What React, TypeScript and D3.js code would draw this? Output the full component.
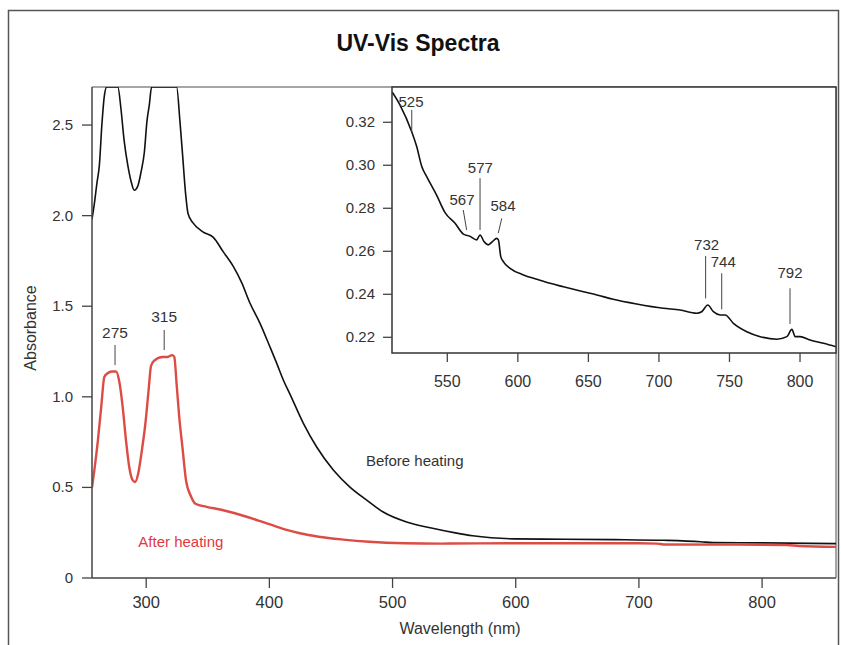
import React from "react";
import * as d3 from "d3";

// ---- data ----
const beforeWl = [256, 258, 260, 262, 264, 266, 268, 277, 279.5, 282, 285, 287.7, 290.3, 293, 295.8, 298.5, 300.6, 302.5, 304.4, 324.7, 327.4, 329.6, 332, 334, 338, 346, 354.5, 362.6, 370.7, 377.5, 384.2, 392.3, 400.5, 405.9, 411.3, 416.7, 427.5, 438.4, 451.9, 465.4, 479, 492.4, 511.4, 531.5, 551, 565, 580, 599, 640, 680, 720, 750, 760, 800, 860];
const beforeAbs = [1.98, 2.07, 2.18, 2.28, 2.5, 2.66, 2.71, 2.71, 2.59, 2.42, 2.28, 2.19, 2.14, 2.16, 2.24, 2.35, 2.52, 2.61, 2.71, 2.71, 2.52, 2.33, 2.12, 2.01, 1.96, 1.91, 1.88, 1.8, 1.72, 1.63, 1.518, 1.407, 1.275, 1.186, 1.093, 1.015, 0.855, 0.723, 0.596, 0.502, 0.43, 0.364, 0.309, 0.276, 0.249, 0.233, 0.222, 0.216, 0.214, 0.212, 0.208, 0.2, 0.195, 0.194, 0.19];

const afterWl = [256, 258, 260.8, 263.5, 266, 268.7, 272, 275.5, 278, 280.9, 283.6, 286.3, 289, 291, 293.6, 296.6, 299.3, 302, 303.9, 306.6, 313.3, 317.4, 321, 322.8, 324.7, 326.8, 329.6, 332.3, 336.4, 340, 349, 360, 370.5, 381.5, 392, 403, 414, 424.8, 440, 460, 481, 510, 540, 600, 650, 700, 715, 720, 780, 820, 830, 860];
const afterAbs = [0.5, 0.6, 0.76, 0.945, 1.11, 1.13, 1.14, 1.14, 1.09, 0.945, 0.76, 0.61, 0.54, 0.53, 0.58, 0.71, 0.85, 1.04, 1.17, 1.2, 1.22, 1.22, 1.23, 1.22, 1.07, 0.89, 0.71, 0.54, 0.45, 0.41, 0.393, 0.378, 0.36, 0.338, 0.315, 0.29, 0.266, 0.247, 0.228, 0.212, 0.2, 0.192, 0.19, 0.192, 0.192, 0.192, 0.19, 0.185, 0.184, 0.182, 0.177, 0.172];

const insetWl = [511, 516.5, 524.7, 528.3, 531.9, 535.4, 542.5, 548.4, 555.5, 561.4, 566, 570.8, 573.2, 576, 579, 582, 585, 586.2, 587.9, 589.7, 594.5, 604, 613.4, 622.8, 632.3, 646.5, 656, 667.6, 684.2, 703, 715, 726.7, 730.3, 734.6, 738.6, 743.4, 746.9, 752.8, 762.3, 771.8, 783.6, 790.7, 794.2, 796.6, 800, 807.1, 816.6, 825.5];
const insetAbs = [0.334, 0.328, 0.3157, 0.3087, 0.2994, 0.2947, 0.286, 0.278, 0.273, 0.268, 0.267, 0.2653, 0.2676, 0.2645, 0.263, 0.2645, 0.266, 0.2653, 0.2575, 0.2552, 0.2521, 0.249, 0.247, 0.2451, 0.2435, 0.2412, 0.2397, 0.2377, 0.2355, 0.2335, 0.2327, 0.2312, 0.2319, 0.235, 0.2319, 0.2304, 0.2304, 0.2265, 0.2226, 0.2203, 0.2191, 0.2203, 0.2237, 0.2203, 0.2203, 0.2187, 0.2172, 0.2156];

const mainXTicks = [300, 400, 500, 600, 700, 800];
const mainYTicks = [0, 0.5, 1.0, 1.5, 2.0, 2.5];
const insetXTicks = [550, 600, 650, 700, 750, 800];
const insetYTicks = [0.22, 0.24, 0.26, 0.28, 0.3, 0.32];

// main peak labels: wavelength, line top / bottom absorbance, text baseline absorbance
const mainPeaks = [
  { label: "275", wl: 274.7, a1: 1.286, a2: 1.175, ta: 1.325 },
  { label: "315", wl: 314.6, a1: 1.369, a2: 1.258, ta: 1.413 },
];

// inset peak labels (line from (w1,a1) to (w2,a2), text at (tw,ta))
const insetPeaks = [
  { label: "525", w1: 524.8, a1: 0.3257, w2: 524.8, a2: 0.3156, tw: 524.3, ta: 0.3273 },
  { label: "567", w1: 561.3, a1: 0.2792, w2: 563.7, a2: 0.2699, tw: 560.4, ta: 0.2815 },
  { label: "577", w1: 573.2, a1: 0.294, w2: 573.2, a2: 0.2699, tw: 573.4, ta: 0.2964 },
  { label: "584", w1: 588.6, a1: 0.2753, w2: 586.1, a2: 0.2684, tw: 589.5, ta: 0.2787 },
  { label: "732", w1: 733.1, a1: 0.2578, w2: 733.1, a2: 0.2381, tw: 733.8, ta: 0.2606 },
  { label: "744", w1: 744.5, a1: 0.2498, w2: 744.5, a2: 0.233, tw: 745.6, ta: 0.2528 },
  { label: "792", w1: 792.9, a1: 0.2428, w2: 792.9, a2: 0.2262, tw: 792.9, ta: 0.2476 },
];

const FONT = "'Liberation Sans', Arial, sans-serif";
const TXT = "#333";

type Scale = d3.ScaleLinear<number, number>;

const toPath = (wl: number[], ab: number[], sx: Scale, sy: Scale) =>
  d3
    .line<number>()
    .x((i) => sx(wl[i]))
    .y((i) => sy(ab[i]))
    .curve(d3.curveMonotoneX)(wl.map((_, i) => i)) || "";

export default function App() {
  const W = 841;
  const H = 645;
  const m = { left: 92, right: 836, top: 87, bottom: 578 };
  const ins = { left: 392, right: 836, top: 87, bottom: 353 };

  const x = d3.scaleLinear().domain([256, 860]).range([m.left, m.right]);
  const y = d3.scaleLinear().domain([0, 2.71]).range([m.bottom, m.top]);
  const ix = d3.scaleLinear().domain([510.8, 825.5]).range([ins.left, ins.right]);
  const iy = d3.scaleLinear().domain([0.2127, 0.3364]).range([ins.bottom, ins.top]);

  const beforePath = toPath(beforeWl, beforeAbs, x, y);
  const afterPath = toPath(afterWl, afterAbs, x, y);
  const insetPath = toPath(insetWl, insetAbs, ix, iy);

  return (
    <svg
      width={W}
      height={H}
      style={{ position: "absolute", left: 0, top: 0, background: "#fff" }}
      fontFamily={FONT}
    >
      <defs>
        <clipPath id="mainClip">
          <rect x={m.left} y={m.top} width={m.right - m.left} height={m.bottom - m.top} />
        </clipPath>
        <clipPath id="insetClip">
          <rect x={ins.left} y={ins.top} width={ins.right - ins.left} height={ins.bottom - ins.top} />
        </clipPath>
      </defs>

      {/* outer frame */}
      <rect x={8.5} y={10.5} width={830} height={660} fill="none" stroke="#555" strokeWidth={1.5} />

      <text x={418} y={51} textAnchor="middle" fontSize={23} fontWeight="bold" fill="#111"
        fontFamily="'Liberation Sans Narrow', 'Arial Narrow', sans-serif">
        UV-Vis Spectra
      </text>

      {/* main frame */}
      <line x1={m.left} x2={m.right} y1={m.top} y2={m.top} stroke="#888" strokeWidth={1.5} />
      <line x1={m.right} x2={m.right} y1={m.top} y2={m.bottom} stroke="#888" strokeWidth={1.5} />

      {/* main curves */}
      <g clipPath="url(#mainClip)">
        <path d={beforePath} fill="none" stroke="#111" strokeWidth={1.6} strokeLinejoin="round" />
        <path d={afterPath} fill="none" stroke="#dd4b45" strokeWidth={2.4} strokeLinejoin="round" />
      </g>

      {/* main axes */}
      <line x1={m.left} x2={m.left} y1={m.top} y2={m.bottom} stroke="#444" strokeWidth={1.5} />
      <line x1={m.left} x2={m.right} y1={m.bottom} y2={m.bottom} stroke="#444" strokeWidth={1.5} />
      {mainYTicks.map((t) => (
        <g key={"my" + t}>
          <line x1={m.left - 10} x2={m.left} y1={y(t)} y2={y(t)} stroke="#444" strokeWidth={1.3} />
          <text x={m.left - 19} y={y(t) + 5} textAnchor="end" fontSize={15} fill={TXT}>
            {t === 0 ? "0" : t.toFixed(1)}
          </text>
        </g>
      ))}
      {mainXTicks.map((t) => (
        <g key={"mx" + t}>
          <line x1={x(t)} x2={x(t)} y1={m.bottom} y2={m.bottom + 10} stroke="#444" strokeWidth={1.3} />
          <text x={x(t)} y={m.bottom + 30} textAnchor="middle" fontSize={16.5} fill={TXT}>
            {t}
          </text>
        </g>
      ))}
      <text x={460} y={634} textAnchor="middle" fontSize={16} fill={TXT}>
        Wavelength (nm)
      </text>
      <text transform={`translate(36, 328) rotate(-90)`} textAnchor="middle" fontSize={16} fill={TXT}>
        Absorbance
      </text>

      {/* main annotations */}
      {mainPeaks.map((p) => (
        <g key={p.label}>
          <line x1={x(p.wl)} x2={x(p.wl)} y1={y(p.a1)} y2={y(p.a2)} stroke="#444" strokeWidth={1} />
          <text x={x(p.wl)} y={y(p.ta)} textAnchor="middle" fontSize={15.5} fill={TXT}>
            {p.label}
          </text>
        </g>
      ))}
      <text x={x(478.4)} y={y(0.618)} fontSize={15} fill={TXT}>
        Before heating
      </text>
      <text x={x(293.6)} y={y(0.171)} fontSize={15} fill="#e0393e">
        After heating
      </text>

      {/* inset */}
      <rect x={ins.left} y={ins.top} width={ins.right - ins.left} height={ins.bottom - ins.top} fill="#fff" />
      <g clipPath="url(#insetClip)">
        <path d={insetPath} fill="none" stroke="#111" strokeWidth={1.6} strokeLinejoin="round" />
      </g>
      <rect x={ins.left} y={ins.top} width={ins.right - ins.left} height={ins.bottom - ins.top} fill="none" stroke="#333" strokeWidth={1.5} />
      {insetYTicks.map((t) => (
        <g key={"iy" + t}>
          <line x1={ins.left - 9} x2={ins.left} y1={iy(t)} y2={iy(t)} stroke="#444" strokeWidth={1.3} />
          <text x={ins.left - 17} y={iy(t) + 5} textAnchor="end" fontSize={15} fill={TXT}>
            {t.toFixed(2)}
          </text>
        </g>
      ))}
      {insetXTicks.map((t) => (
        <g key={"ix" + t}>
          <line x1={ix(t)} x2={ix(t)} y1={ins.bottom} y2={ins.bottom + 9} stroke="#444" strokeWidth={1.3} />
          <text x={ix(t)} y={ins.bottom + 34} textAnchor="middle" fontSize={16} fill={TXT}>
            {t}
          </text>
        </g>
      ))}
      {insetPeaks.map((p) => (
        <g key={p.label}>
          <line x1={ix(p.w1)} x2={ix(p.w2)} y1={iy(p.a1)} y2={iy(p.a2)} stroke="#444" strokeWidth={1} />
          <text x={ix(p.tw)} y={iy(p.ta)} textAnchor="middle" fontSize={15} fill={TXT}>
            {p.label}
          </text>
        </g>
      ))}
    </svg>
  );
}
